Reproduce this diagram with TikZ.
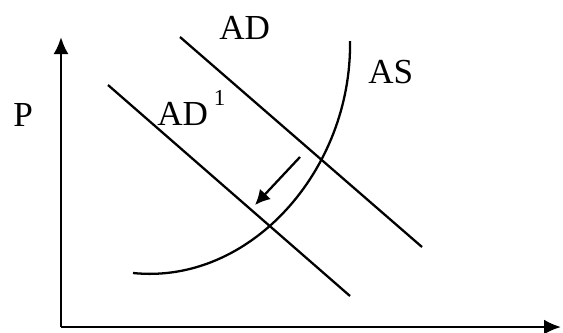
\documentclass[tikz,border=0pt]{standalone}
\usepackage{fontspec}
\setmainfont{Liberation Serif}
\usetikzlibrary{arrows.meta, positioning}

\begin{document}
\begin{tikzpicture}[x=0.02cm, y=-0.02cm,
        axis/.style={line width=1.4pt, -{Latex[length=3.4mm, width=3mm]}},
        curve/.style={line width=1.3pt},
        movearrow/.style={line width=1.3pt, -{Latex[length=3mm, width=3mm]}},
        lbl/.style={font=\fontsize{20}{22}\selectfont, inner sep=0pt, anchor=base west}]

        \useasboundingbox (0,0) rectangle (563,332);

        % axes
        \coordinate (O) at (61,327);
        \coordinate (ytop) at (61,37);
        \coordinate (xend) at (561,327);
        \draw [axis] (O) -- (ytop);
        \draw [axis] (O) -- (xend);
        \node [lbl] (p) at (13,126) {P};

        % demand curves
        \coordinate (ad-a) at (180,37);
        \coordinate (ad-b) at (422,247);
        \coordinate (ad1-a) at (108,85);
        \coordinate (ad1-b) at (350,296);
        \draw [curve] (ad-a) -- (ad-b);
        \draw [curve] (ad1-a) -- (ad1-b);
        \node [lbl] (ad) at (219,39) {AD};
        \node [lbl] (ad1) at (157,125) {AD\,\raisebox{1.2ex}{\fontsize{13}{14}\selectfont 1}};

        % supply curve
        \coordinate (as-a) at (133,273);
        \coordinate (as-b) at (350,41);
        \draw [curve] (as-a) .. controls (250,285) and (352,170) .. (as-b);
        \node [lbl] (as) at (368,83) {AS};

        % shift
        \coordinate (sh-a) at (300,157);
        \coordinate (sh-b) at (255,205);
        \draw [movearrow] (sh-a) -- (sh-b);
    \end{tikzpicture}
\end{document}
